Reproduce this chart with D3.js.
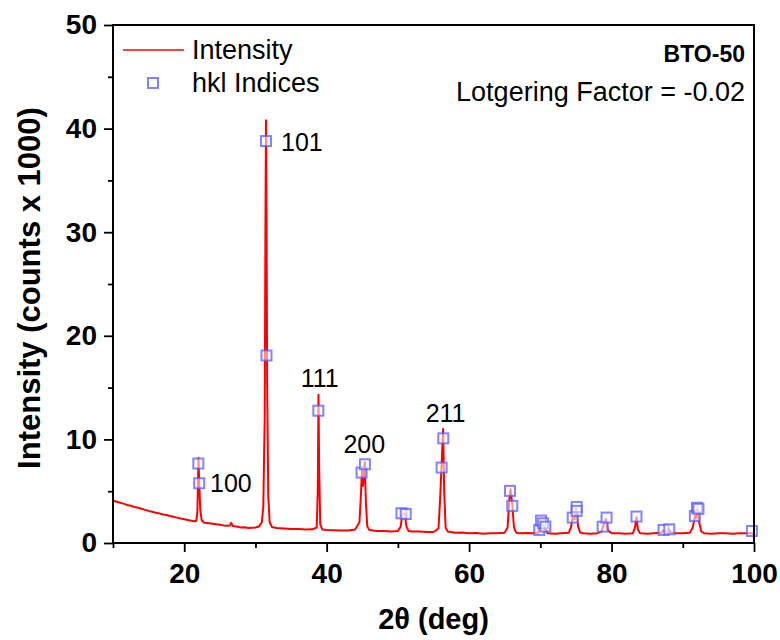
<!DOCTYPE html>
<html>
<head>
<meta charset="utf-8">
<script src="https://cdn.jsdelivr.net/npm/d3@7/dist/d3.min.js"></script>
<style>
  html, body { margin: 0; padding: 0; background: #fff; }
  svg { display: block; font-family: "Liberation Sans", Arial, sans-serif; }
</style>
</head>
<body>
<svg id="chart" width="780" height="640"></svg>
<script>
// ---- data ----
const twoTheta = [10.0,10.5,11.0,11.5,12.0,12.5,13.0,13.5,14.0,14.5,15.0,15.5,16.0,16.5,17.0,17.5,18.0,18.5,19.0,19.5,20.0,20.5,21.0,21.5,21.7,21.85,21.95,22.0,22.05,22.12,22.25,22.45,22.8,23.5,24.0,24.5,25.0,25.5,26.0,26.4,26.6,26.8,27.5,28.0,28.5,29.0,29.5,30.0,30.5,30.9,31.1,31.3,31.4,31.48,31.55,31.65,31.8,32.0,32.3,33.0,34.0,35.0,36.0,37.0,38.0,38.6,38.75,38.85,38.95,39.1,39.4,40.0,41.0,42.0,43.0,44.0,44.6,44.8,44.95,45.1,45.2,45.35,45.5,45.7,46.0,47.0,48.0,49.0,50.0,50.4,50.6,50.8,51.0,51.2,51.5,52.0,53.0,54.0,55.0,55.7,55.95,56.15,56.35,56.5,56.7,57.0,58.0,59.0,60.0,61.0,62.0,63.0,64.0,65.0,65.4,65.65,65.8,66.05,66.3,66.6,67.0,68.0,69.0,69.7,69.9,70.1,70.3,70.5,70.7,71.0,72.0,73.0,74.0,74.3,74.55,74.8,75.05,75.3,75.6,76.0,77.0,78.0,78.6,78.85,79.2,79.5,80.0,81.0,82.0,83.0,83.3,83.5,83.7,84.0,85.0,86.0,87.0,87.3,87.7,88.0,88.3,89.0,90.0,91.0,91.4,91.7,91.85,92.05,92.3,92.6,93.0,94.0,95.0,96.0,97.0,98.0,99.0,100.0];
const intensity = [4.1,3.98,3.88,3.8,3.66,3.6,3.47,3.4,3.3,3.2,3.1,3.02,2.92,2.86,2.75,2.7,2.6,2.53,2.45,2.36,2.3,2.22,2.15,2.1,2.15,3.0,6.5,8.2,7.0,5.6,3.2,2.2,1.95,1.9,1.86,1.8,1.76,1.7,1.66,1.7,1.95,1.65,1.56,1.5,1.52,1.45,1.46,1.5,1.6,2.0,3.5,12.0,30.0,40.8,32.0,15.0,4.5,2.0,1.55,1.45,1.4,1.36,1.35,1.3,1.32,1.5,5.0,14.3,7.0,1.8,1.3,1.25,1.22,1.2,1.2,1.3,2.0,4.5,7.0,5.5,6.5,7.8,4.0,1.6,1.25,1.15,1.16,1.1,1.15,1.6,2.7,2.9,2.7,1.6,1.15,1.1,1.1,1.05,1.06,1.4,4.5,7.8,11.0,5.0,1.5,1.1,1.0,1.02,0.95,0.96,0.9,0.95,0.95,1.0,1.5,4.2,5.2,3.8,1.5,1.0,0.95,0.96,0.95,1.0,1.5,2.0,1.7,1.9,1.4,0.95,0.9,0.95,1.0,1.5,2.5,2.3,3.4,1.6,1.0,0.95,0.9,0.95,1.1,1.7,2.3,1.2,0.95,0.95,0.9,0.95,1.5,2.5,1.3,0.95,0.9,0.95,1.0,1.25,1.1,1.3,1.0,0.95,0.95,1.0,1.5,2.6,2.4,3.4,2.0,1.1,0.95,0.9,0.95,0.95,0.9,0.95,0.95,0.95];

const hklTheta = [21.98,22.1,31.48,31.55,38.83,44.9,45.37,50.5,51.1,56.14,56.37,65.74,66.06,69.85,70.1,70.4,70.7,74.55,75.1,75.1,78.75,79.3,83.5,87.3,88.1,91.7,92.0,92.2,99.7];
const hklIntensity = [7.67,5.77,38.8,18.1,12.77,6.8,7.6,2.87,2.8,7.28,10.1,5.03,3.58,1.26,2.16,1.9,1.58,2.45,3.48,3.1,1.58,2.45,2.55,1.26,1.32,2.6,3.4,3.3,1.16];

const peakLabels = ["100","101","111","200","211"];
const peakLabelTheta = [23.62,33.59,36.35,42.35,53.9];
const peakLabelIntensity = [4.92,37.84,15.06,8.69,11.68];

const xTicks = [20,40,60,80,100];
const xMinorTicks = [10,30,50,70,90];
const yTicks = [0,10,20,30,40,50];
const yMinorTicks = [5,15,25,35,45];

const legendLabels = ["Intensity","hkl Indices"];
const sampleName = "BTO-50";
const lotgeringText = "Lotgering Factor = -0.02";

// ---- layout ----
const svg = d3.select("#chart");
const L = 113, R = 754, T = 25, B = 543;
const x = d3.scaleLinear().domain([10,100]).range([L,R]);
const y = d3.scaleLinear().domain([0,50]).range([B,T]);

const lineColor = "#ff0000";
const markStroke = "rgba(90,90,255,0.75)";
const markFill = "rgba(255,255,255,0.55)";

// spectrum line
const pts = twoTheta.map((t,i)=>[t,intensity[i]]);
svg.append("path")
  .datum(pts)
  .attr("fill","none")
  .attr("stroke",lineColor)
  .attr("stroke-width",2)
  .attr("stroke-linejoin","round")
  .attr("d", d3.line().x(d=>x(d[0])).y(d=>y(d[1])));

// hkl markers
const ms = 10;
svg.append("g").selectAll("rect")
  .data(hklTheta.map((t,i)=>[t,hklIntensity[i]]))
  .join("rect")
  .attr("x", d=>x(d[0])-ms/2)
  .attr("y", d=>y(d[1])-ms/2)
  .attr("width", ms).attr("height", ms)
  .attr("fill", markFill)
  .attr("stroke", markStroke)
  .attr("stroke-width", 2);

// frame
svg.append("rect").attr("x",L).attr("y",T).attr("width",R-L).attr("height",B-T)
  .attr("fill","none").attr("stroke","#000").attr("stroke-width",2);

// axes
const xAxis = svg.append("g").attr("transform",`translate(0,${B})`)
  .call(d3.axisBottom(x).tickValues(xTicks).tickSize(9).tickPadding(11).tickFormat(d3.format("d")));
const xMinor = svg.append("g").attr("transform",`translate(0,${B})`)
  .call(d3.axisBottom(x).tickValues(xMinorTicks).tickSize(5).tickFormat(""));
const yAxis = svg.append("g").attr("transform",`translate(${L},0)`)
  .call(d3.axisLeft(y).tickValues(yTicks).tickSize(9).tickPadding(7).tickFormat(d3.format("d")));
const yMinor = svg.append("g").attr("transform",`translate(${L},0)`)
  .call(d3.axisLeft(y).tickValues(yMinorTicks).tickSize(5).tickFormat(""));
[xAxis,xMinor,yAxis,yMinor].forEach(g=>{
  g.select(".domain").remove();
  g.selectAll("line").attr("stroke","#000").attr("stroke-width",1.8);
  g.selectAll("text").attr("font-family","Liberation Sans, Arial, sans-serif")
    .attr("font-size",28).attr("font-weight","bold").attr("fill","#000");
});

// axis titles
svg.append("text").attr("x",(L+R)/2).attr("y",629).attr("text-anchor","middle")
  .attr("font-size",29).attr("font-weight","bold").attr("fill","#000")
  .text("2θ (deg)");
svg.append("text").attr("transform",`translate(40,${(T+B)/2+4}) rotate(-90)`)
  .attr("text-anchor","middle").attr("font-size",31).attr("font-weight","bold").attr("fill","#000")
  .text("Intensity (counts x 1000)");

// peak labels
svg.append("g").selectAll("text")
  .data(peakLabels.map((s,i)=>({s,t:peakLabelTheta[i],v:peakLabelIntensity[i]})))
  .join("text")
  .attr("x",d=>x(d.t)).attr("y",d=>y(d.v))
  .attr("font-size",25).attr("fill","#000")
  .text(d=>d.s);

// legend
const lg = svg.append("g");
lg.append("line").attr("x1",123).attr("x2",184).attr("y1",50).attr("y2",50)
  .attr("stroke",lineColor).attr("stroke-width",1.6);
lg.append("rect").attr("x",153-ms/2).attr("y",83-ms/2).attr("width",ms).attr("height",ms)
  .attr("fill",markFill).attr("stroke",markStroke).attr("stroke-width",2);
lg.selectAll("text.lt").data(legendLabels).join("text")
  .attr("class","lt")
  .attr("x",192).attr("y",(d,i)=>59+i*33)
  .attr("font-size",27).attr("fill","#000").text(d=>d);

// sample name & Lotgering factor
svg.append("text").attr("x",745).attr("y",62).attr("text-anchor","end")
  .attr("font-size",23).attr("font-weight","bold").attr("fill","#000").text(sampleName);
svg.append("text").attr("x",745).attr("y",101).attr("text-anchor","end")
  .attr("font-size",27).attr("fill","#000").text(lotgeringText);
</script>
</body>
</html>
